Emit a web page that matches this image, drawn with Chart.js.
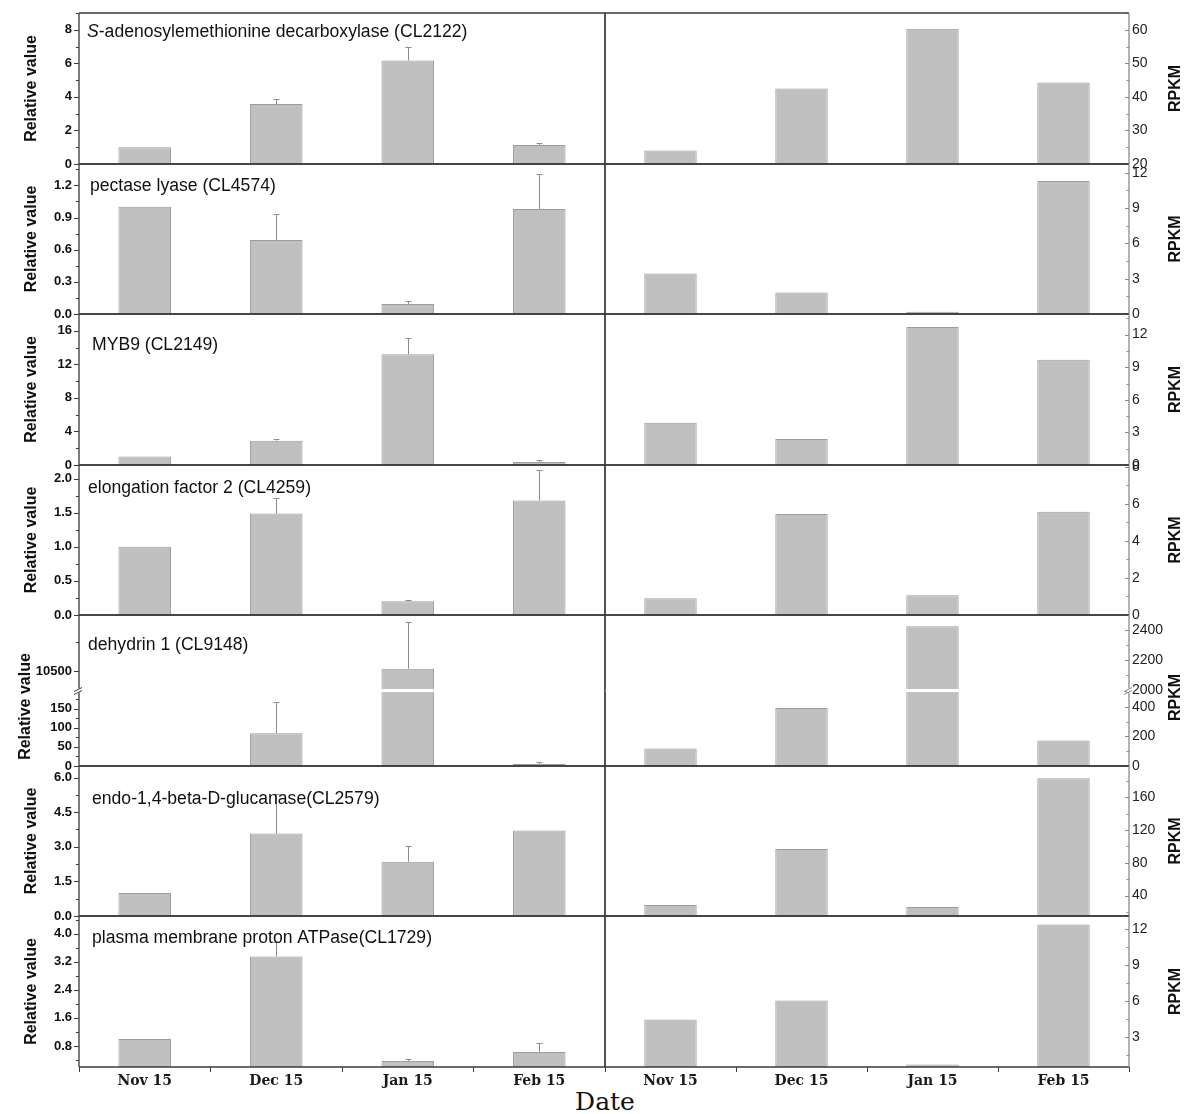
<!DOCTYPE html>
<html><head><meta charset="utf-8">
<script src="https://cdn.jsdelivr.net/npm/chart.js@4.4.1/dist/chart.umd.min.js"></script>
<style>
html,body{margin:0;padding:0;background:#fff;width:1200px;height:1114px;overflow:hidden;}
#wrap{position:relative;width:1200px;height:1114px;background:#fff;}
canvas{position:absolute;}
#xtitle{position:absolute;left:505px;width:200px;text-align:center;top:1089px;font:25px 'DejaVu Serif',serif;color:#111;line-height:25px;}
</style></head><body><div id="wrap"><div id="xtitle">Date</div></div>
<script>
// ---------------- DATA ----------------
const categories = ['Nov 15', 'Dec 15', 'Jan 15', 'Feb 15'];
const geneTitles = [
  'S-adenosylemethionine decarboxylase (CL2122)',
  'pectase lyase (CL4574)',
  'MYB9 (CL2149)',
  'elongation factor 2 (CL4259)',
  'dehydrin 1 (CL9148)',
  'endo-1,4-beta-D-glucanase(CL2579)',
  'plasma membrane proton ATPase(CL1729)'
];
const italicPrefix = ['S', '', '', '', '', '', ''];

// relative value (left panels) and upward error
const relCL2122 = [1.0, 3.58, 6.17, 1.13];   const errCL2122 = [0, 0.30, 0.80, 0.12];
const relCL4574 = [1.0, 0.69, 0.094, 0.98];  const errCL4574 = [0, 0.24, 0.026, 0.33];
const relCL2149 = [1.0, 2.9, 13.2, 0.36];    const errCL2149 = [0, 0.25, 1.9, 0.2];
const relCL4259 = [1.0, 1.49, 0.2, 1.68];    const errCL4259 = [0, 0.22, 0.02, 0.44];
const relCL9148 = [1, 85.7, 10520, 5.3];     const errCL9148 = [0, 82, 406, 5.4];
const relCL2579 = [1.0, 3.57, 2.35, 3.7];    const errCL2579 = [0, 1.7, 0.69, 0];
const relCL1729 = [1.0, 3.35, 0.37, 0.63];   const errCL1729 = [0, 0.4, 0.06, 0.25];

// RPKM (right panels)
const rpkmCL2122 = [24.0, 42.5, 60.3, 44.3];
const rpkmCL4574 = [3.45, 1.82, 0.2, 11.3];
const rpkmCL2149 = [3.9, 2.4, 12.7, 9.7];
const rpkmCL4259 = [0.91, 5.46, 1.07, 5.57];
const rpkmCL9148 = [118, 391, 2425, 173];
const rpkmCL2579 = [28.4, 96.7, 26, 183];
const rpkmCL1729 = [4.46, 6.04, 0.71, 12.4];

const relRows = [relCL2122, relCL4574, relCL2149, relCL4259, relCL9148, relCL2579, relCL1729];
const errRows = [errCL2122, errCL4574, errCL2149, errCL4259, errCL9148, errCL2579, errCL1729];
const rpkmRows = [rpkmCL2122, rpkmCL4574, rpkmCL2149, rpkmCL4259, rpkmCL9148, rpkmCL2579, rpkmCL1729];

// axis ticks: [min, max, step, decimals]; null = broken axis row
const relAxes = [[0, 9, 2, 0], [0, 1.4, 0.3, 1], [0, 18, 4, 0], [0, 2.2, 0.5, 1], null, [0, 6.5, 1.5, 1], [0.2, 4.5, 0.8, 1]];
const relBreakLow = [0, 197, 50, 0];
const relBreakHigh = [10330, 10990, 500, 0];
const rpkmAxes = [[20, 65, 10, 0], [0, 12.75, 3, 0], [0, 13.9, 3, 0], [0, 8.1, 2, 0], null, [15, 198, 40, 0], [0.5, 13.1, 3, 0]];
const rpkmBreakLow = [0, 510, 200, 0];
const rpkmBreakHigh = [2000, 2500, 200, 0];

// ---------------- LAYOUT / STYLE ----------------
const titleDx = [8, 11, 13, 9, 9, 13, 13];
const titleDy = [19, 22, 31, 23, 30, 33, 22];
const yTitleShiftX = [0, 0, 0, 0, -6, 0, 0];
const yTitleShiftY = [0, 0, 0, 0, 16, 0, 0];
const rTitleShiftY = [0, 0, 0, 0, 7, 0, 0];
const ROW_TOP = 13, ROW_H = 150.57, PAD = 20, XAXIS_H = 28;
const DARK = '#3a3a3a', GREY = '#8a8a8a';
Chart.defaults.font.family = "'Liberation Sans', Arial, sans-serif";

const decorPlugin = {
  id: 'decor',
  afterDatasetsDraw(chart, args, o) {
    const ctx = chart.ctx, a = chart.chartArea;
    if (o.breakScale) {
      const s = chart.scales[o.breakScale];
      ctx.save(); ctx.fillStyle = '#fff';
      ctx.fillRect(a.left, s.top - 1.5, a.right - a.left, 3);
      ctx.restore();
    }
    chart.data.datasets.forEach((ds, di) => {
      if (!ds.errors) return;
      const meta = chart.getDatasetMeta(di);
      const ys = chart.scales[meta.yAxisID];
      ctx.save();
      ctx.beginPath(); ctx.rect(a.left, ys.top, a.right - a.left, ys.bottom - ys.top); ctx.clip();
      ctx.strokeStyle = '#8c8c8c'; ctx.lineWidth = 1;
      meta.data.forEach((bar, i) => {
        const e = ds.errors[i]; if (!e) return;
        const v = ds.data[i];
        const x = Math.round(bar.x) + 0.5;
        const y0 = ys.getPixelForValue(v);
        const y1 = Math.round(ys.getPixelForValue(v + e)) + 0.5;
        ctx.beginPath(); ctx.moveTo(x, y0); ctx.lineTo(x, y1);
        ctx.moveTo(x - 3, y1); ctx.lineTo(x + 3, y1); ctx.stroke();
      });
      ctx.restore();
    });
  },
  afterDraw(chart, args, o) {
    const ctx = chart.ctx, a = chart.chartArea;
    ctx.save();
    // y ticks (major + minor)
    Object.values(chart.scales).forEach(s => {
      if (s.axis !== 'y') return;
      const left = s.position === 'left';
      const x0 = left ? a.left : a.right;
      const step = s.options.ticks.stepSize, minor = step / 2;
      ctx.strokeStyle = left ? DARK : GREY; ctx.lineWidth = 1;
      for (let k = Math.ceil(s.min / minor - 1e-9); k * minor <= s.max + 1e-9; k++) {
        const v = k * minor;
        const isMajor = Math.abs(v / step - Math.round(v / step)) < 1e-6;
        const len = left ? (isMajor ? 5 : 3) : (isMajor ? 4 : 2.5);
        const y = Math.round(s.getPixelForValue(v)) + 0.5;
        ctx.beginPath(); ctx.moveTo(x0 - len, y); ctx.lineTo(x0, y); ctx.stroke();
      }
    });
    // frame
    ctx.lineWidth = 1.3;
    const line = (x1, y1, x2, y2, c) => { ctx.strokeStyle = c; ctx.beginPath(); ctx.moveTo(x1, y1); ctx.lineTo(x2, y2); ctx.stroke(); };
    line(a.left, a.top, a.right, a.top, DARK);
    line(a.left, a.bottom, a.right, a.bottom, DARK);
    line(a.left, a.top, a.left, a.bottom, DARK);
    line(a.right, a.top, a.right, a.bottom, o.rightColor || DARK);
    // axis break marks
    if (o.breakScale) {
      const s = chart.scales[o.breakScale];
      const y = s.top;
      const x = o.side === 'left' ? a.left : a.right;
      ctx.fillStyle = '#fff'; ctx.fillRect(x - 2, y - 2, 4, 4);
      ctx.strokeStyle = o.side === 'left' ? DARK : GREY; ctx.lineWidth = 1;
      ctx.beginPath();
      ctx.moveTo(x - 5, y + 1); ctx.lineTo(x + 3, y - 3);
      ctx.moveTo(x - 5, y + 4); ctx.lineTo(x + 3, y);
      ctx.stroke();
    }
    // gene title
    if (o.geneTitle) {
      ctx.fillStyle = '#111'; ctx.textBaseline = 'middle'; ctx.textAlign = 'left';
      let x = a.left + o.titleDx;
      const y = a.top + o.titleDy;
      let rest = o.geneTitle;
      if (o.italicPrefix) {
        ctx.font = "italic 17.6px 'Liberation Sans'";
        ctx.fillText(o.italicPrefix, x, y);
        x += ctx.measureText(o.italicPrefix).width;
        rest = rest.slice(o.italicPrefix.length);
      }
      ctx.font = "17.6px 'Liberation Sans'";
      ctx.fillText(rest, x, y);
    }
    // y title
    if (o.yTitle) {
      ctx.translate(o.yTitleX, (a.top + a.bottom) / 2 + (o.yTitleDy || 0));
      ctx.rotate(-Math.PI / 2);
      ctx.font = "bold 16px 'Liberation Sans'";
      ctx.fillStyle = '#111'; ctx.textAlign = 'center'; ctx.textBaseline = 'middle';
      ctx.fillText(o.yTitle, 0, 0);
    }
    ctx.restore();
  }
};

function yAxis(range, side, extra) {
  const [min, max, step, dec] = range;
  const left = side === 'left';
  return Object.assign({
    type: 'linear', position: side, min: min, max: max,
    grid: {display: false, drawTicks: false},
    border: {display: false},
    ticks: {
      stepSize: step, includeBounds: false, autoSkip: false,
      padding: left ? 7 : 3,
      color: left ? '#111' : '#222',
      font: left ? {family: 'Liberation Sans', weight: 'bold', size: 13} : {family: 'Liberation Sans', size: 14},
      callback: v => Number(v).toFixed(dec)
    },
    afterBuildTicks: s => {
      const t = [];
      for (let k = Math.ceil(min / step - 1e-9); k * step <= max + 1e-9; k++) t.push({value: +(k * step).toFixed(6)});
      s.ticks = t;
    },
    afterFit: s => { s.width = left ? 79 : 71; }
  }, extra || {});
}

function xAxis(show) {
  const ax = {
    type: 'category', display: show, offset: true,
    grid: {display: true, drawOnChartArea: false, drawTicks: true, tickLength: 5, color: DARK, offset: true},
    border: {display: false},
    ticks: {font: {family: 'DejaVu Serif', weight: 'bold', size: 14}, color: '#1a1a1a', padding: 1, maxRotation: 0, autoSkip: false}
  };
  if (show) ax.afterFit = s => { s.height = XAXIS_H; };
  return ax;
}

const barStyle = {backgroundColor: '#c0c0c0', borderColor: '#9c9c9c', borderWidth: 1, barPercentage: 0.4, categoryPercentage: 1.0};
const wrap = document.getElementById('wrap');

function addCanvas(left, top, w, h) {
  const c = document.createElement('canvas');
  c.width = w; c.height = h;
  c.style.left = left + 'px'; c.style.top = top + 'px';
  c.style.width = w + 'px'; c.style.height = h + 'px';
  wrap.appendChild(c);
  return c;
}

for (let i = 0; i < 7; i++) {
  const T = Math.round(ROW_TOP + i * ROW_H);
  const B = Math.round(ROW_TOP + (i + 1) * ROW_H);
  const last = i === 6;
  const padBottom = last ? 0 : PAD;
  const h = (B - T) + PAD + (last ? XAXIS_H : PAD);
  const top = T - PAD;
  const broken = relAxes[i] === null;

  // ----- left (relative value) -----
  let lScales, lSets;
  if (broken) {
    lScales = {
      x: xAxis(last),
      yLow: yAxis(relBreakLow, 'left', {stack: 'brk', stackWeight: 1, weight: 1}),
      yHigh: yAxis(relBreakHigh, 'left', {stack: 'brk', stackWeight: 1, weight: 2})
    };
    lSets = [
      Object.assign({data: relRows[i], errors: errRows[i], yAxisID: 'yLow', grouped: false}, barStyle),
      Object.assign({data: relRows[i], errors: errRows[i], yAxisID: 'yHigh', grouped: false}, barStyle)
    ];
  } else {
    lScales = {x: xAxis(last), y: yAxis(relAxes[i], 'left')};
    lSets = [Object.assign({data: relRows[i], errors: errRows[i], yAxisID: 'y'}, barStyle)];
  }
  new Chart(addCanvas(0, top, 606, h), {
    type: 'bar',
    data: {labels: categories, datasets: lSets},
    options: {
      responsive: false, animation: false, events: [], devicePixelRatio: 1,
      layout: {padding: {left: 0, right: 1, top: PAD, bottom: padBottom}},
      plugins: {
        legend: {display: false}, tooltip: {enabled: false},
        decor: {geneTitle: geneTitles[i], italicPrefix: italicPrefix[i], titleDx: titleDx[i], titleDy: titleDy[i],
                yTitle: 'Relative value', yTitleX: 32 + yTitleShiftX[i], yTitleDy: yTitleShiftY[i],
                side: 'left', breakScale: broken ? 'yLow' : null}
      },
      scales: lScales
    },
    plugins: [decorPlugin]
  });

  // ----- right (RPKM) -----
  let rScales, rSets;
  if (broken) {
    rScales = {
      x: xAxis(last),
      yLow: yAxis(rpkmBreakLow, 'right', {stack: 'brk', stackWeight: 1, weight: 2}),
      yHigh: yAxis(rpkmBreakHigh, 'right', {stack: 'brk', stackWeight: 1, weight: 1})
    };
    rSets = [
      Object.assign({data: rpkmRows[i], yAxisID: 'yLow', grouped: false}, barStyle),
      Object.assign({data: rpkmRows[i], yAxisID: 'yHigh', grouped: false}, barStyle)
    ];
  } else {
    rScales = {x: xAxis(last), y: yAxis(rpkmAxes[i], 'right')};
    rSets = [Object.assign({data: rpkmRows[i], yAxisID: 'y'}, barStyle)];
  }
  new Chart(addCanvas(600, top, 600, h), {
    type: 'bar',
    data: {labels: categories, datasets: rSets},
    options: {
      responsive: false, animation: false, events: [], devicePixelRatio: 1,
      layout: {padding: {left: 5, right: 0, top: PAD, bottom: padBottom}},
      plugins: {
        legend: {display: false}, tooltip: {enabled: false},
        decor: {yTitle: 'RPKM', yTitleX: 576, yTitleDy: rTitleShiftY[i], side: 'right', rightColor: GREY,
                breakScale: broken ? 'yLow' : null}
      },
      scales: rScales
    },
    plugins: [decorPlugin]
  });
}
</script></body></html>
